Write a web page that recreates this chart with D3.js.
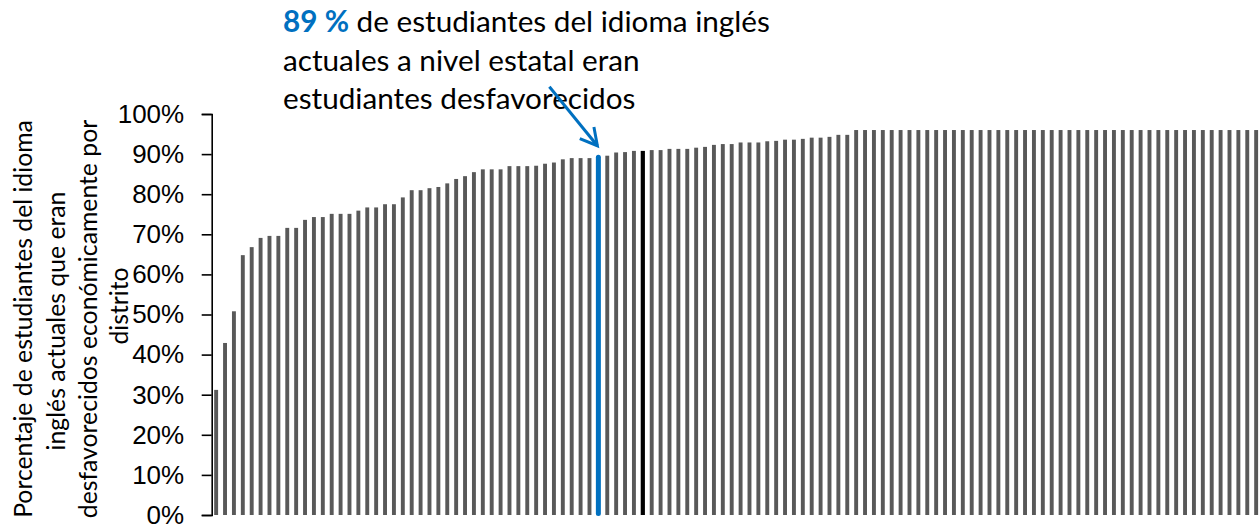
<!DOCTYPE html>
<html>
<head>
<meta charset="utf-8">
<script src="https://cdn.jsdelivr.net/npm/d3@7"></script>
<style>
  html, body { margin: 0; padding: 0; background: #fff; }
  svg { display: block; }
</style>
</head>
<body>
<svg id="chart" width="1260" height="527"></svg>
<script>
// ---- Data ----
const values = [
  31.2, 42.9, 50.8, 64.8, 66.8, 69.1, 69.6, 69.6, 71.6, 71.6,
  73.6, 74.3, 74.3, 75.1, 75.1, 75.1, 75.9, 76.7, 76.7, 77.5,
  77.5, 79.2, 81.0, 81.0, 81.5, 81.8, 82.7, 83.8, 84.5, 85.5,
  86.2, 86.2, 86.2, 87.0, 87.0, 87.0, 87.1, 87.6, 87.9, 88.7,
  89.0, 89.0, 89.0, 89.6, 89.6, 90.4, 90.5, 90.8, 90.8, 91.0,
  91.0, 91.3, 91.3, 91.3, 91.6, 91.8, 92.3, 92.5, 92.5, 92.9,
  92.9, 92.9, 93.2, 93.3, 93.6, 93.6, 93.8, 94.1, 94.1, 94.3,
  94.8, 94.8, 96.0, 96.0, 96.0, 96.0, 96.0, 96.0, 96.0, 96.0,
  96.0, 96.0, 96.0, 96.0, 96.0, 96.0, 96.0, 96.0, 96.0, 96.0,
  96.0, 96.0, 96.0, 96.0, 96.0, 96.0, 96.0, 96.0, 96.0, 96.0,
  96.0, 96.0, 96.0, 96.0, 96.0, 96.0, 96.0, 96.0, 96.0, 96.0,
  96.0, 96.0, 96.0, 96.0, 96.0, 96.0, 96.0, 96.0
];
const districts = values.map((v, i) => "Distrito " + (i + 1));
const stateDistrict = districts[43];      // blue bar (state level)
const highlightDistrict = districts[48];  // black bar
const yTicks = [0, 10, 20, 30, 40, 50, 60, 70, 80, 90, 100];
const yTickLabels = ["0%", "10%", "20%", "30%", "40%", "50%", "60%", "70%", "80%", "90%", "100%"];
const yTitleLines = [
  "Porcentaje de estudiantes del idioma",
  "inglés actuales que eran",
  "desfavorecidos económicamente por",
  "distrito"
];
const noteBold = "89 %";
const noteLines = [
  " de estudiantes del idioma inglés",
  "actuales a nivel estatal eran",
  "estudiantes desfavorecidos"
];

// ---- Layout ----
const svg = d3.select("#chart");
const plot = { left: 211.7, right: 1260.6, top: 114, bottom: 515 };
const grey = "#595959", blue = "#0070C0";

const x = d3.scaleBand()
  .domain(districts)
  .range([plot.left, plot.right])
  .paddingInner(0.56)
  .paddingOuter(0.28);
const y = d3.scaleLinear().domain([0, 100]).range([plot.bottom, plot.top]);

const data = districts.map((d, i) => ({ d, v: values[i] }));

// bars
svg.append("g").selectAll("rect")
  .data(data.filter(e => e.d !== stateDistrict && e.d !== highlightDistrict))
  .join("rect")
  .attr("x", e => x(e.d))
  .attr("width", x.bandwidth())
  .attr("y", e => y(e.v))
  .attr("height", e => y(0) - y(e.v))
  .attr("fill", grey);

const hv = values[districts.indexOf(highlightDistrict)];
svg.append("rect")
  .attr("x", x(highlightDistrict) + x.bandwidth() / 2 - 2.1)
  .attr("width", 4.2)
  .attr("y", y(hv))
  .attr("height", y(0) - y(hv))
  .attr("fill", "#000");

const sv = values[districts.indexOf(stateDistrict)];
const scx = x(stateDistrict) + x.bandwidth() / 2;
svg.append("line")
  .attr("x1", scx).attr("x2", scx)
  .attr("y1", y(0) - 1.5).attr("y2", y(sv) + 1.5)
  .attr("stroke", blue)
  .attr("stroke-width", 5)
  .attr("stroke-linecap", "round");

// y axis
const yAxis = d3.axisLeft(y)
  .tickValues(yTicks)
  .tickFormat((d, i) => yTickLabels[i])
  .tickSize(10)
  .tickSizeOuter(10)
  .tickPadding(17.5);
const ag = svg.append("g")
  .attr("transform", `translate(${plot.left},0)`)
  .call(yAxis);
ag.select(".domain").attr("stroke", "#000").attr("stroke-width", 1.6);
ag.selectAll(".tick line").attr("stroke", "#000").attr("stroke-width", 1.6);
ag.selectAll(".tick text")
  .attr("fill", "#000")
  .style("font-family", "'Liberation Sans', Arial, sans-serif")
  .style("font-size", "26px");

// fit helper: choose a font size so the text gets a target width
function fitSize(sel, target) {
  sel.style("font-size", "100px");
  const w = sel.node().getComputedTextLength();
  return 100 * target / w;
}

// y title (rotated)
const titleFont = "Lato, 'Noto Sans', sans-serif";
const tt = svg.append("g").attr("class", "ytitle");
const probe = tt.append("text").style("font-family", titleFont).text(yTitleLines[0]);
const titleSize = fitSize(probe, 398);
probe.remove();
const titleBase = [32, 64.5, 97, 128];
const titleCenter = [319, 321, 319, 306];
yTitleLines.forEach((line, i) => {
  tt.append("text")
    .attr("transform", `translate(${titleBase[i]},${titleCenter[i]}) rotate(-90)`)
    .attr("text-anchor", "middle")
    .style("font-family", titleFont)
    .style("font-size", titleSize + "px")
    .attr("fill", "#000")
    .text(line);
});

// annotation
const ng = svg.append("g");
const np = ng.append("text").style("font-family", titleFont);
np.append("tspan").style("font-weight", "bold").text(noteBold);
np.append("tspan").text(noteLines[0]);
const noteSize = fitSize(np, 487);
np.remove();
const noteX = 283, noteBase = [32, 70.5, 109];
noteLines.forEach((line, i) => {
  const t = ng.append("text")
    .attr("x", noteX).attr("y", noteBase[i])
    .style("font-family", titleFont)
    .style("font-size", noteSize + "px")
    .attr("fill", "#000");
  if (i === 0) {
    t.append("tspan").style("font-weight", "bold").attr("fill", blue).text(noteBold);
  }
  t.append("tspan").text(line);
});

// arrow pointing to the state bar
const tip = [scx - 1, y(sv) - 10];
const start = [tip[0] - 48, tip[1] - 59];
const ang = Math.atan2(tip[1] - start[1], tip[0] - start[0]);
const headLen = 19, headAng = 0.5;
svg.append("line")
  .attr("x1", start[0]).attr("y1", start[1])
  .attr("x2", tip[0]).attr("y2", tip[1])
  .attr("stroke", blue).attr("stroke-width", 3);
svg.append("path")
  .attr("d", d3.line()([
    [tip[0] - headLen * Math.cos(ang - headAng), tip[1] - headLen * Math.sin(ang - headAng)],
    tip,
    [tip[0] - headLen * Math.cos(ang + headAng), tip[1] - headLen * Math.sin(ang + headAng)]
  ]))
  .attr("fill", "none")
  .attr("stroke", blue)
  .attr("stroke-width", 3)
  .attr("stroke-linejoin", "miter");
</script>
</body>
</html>
